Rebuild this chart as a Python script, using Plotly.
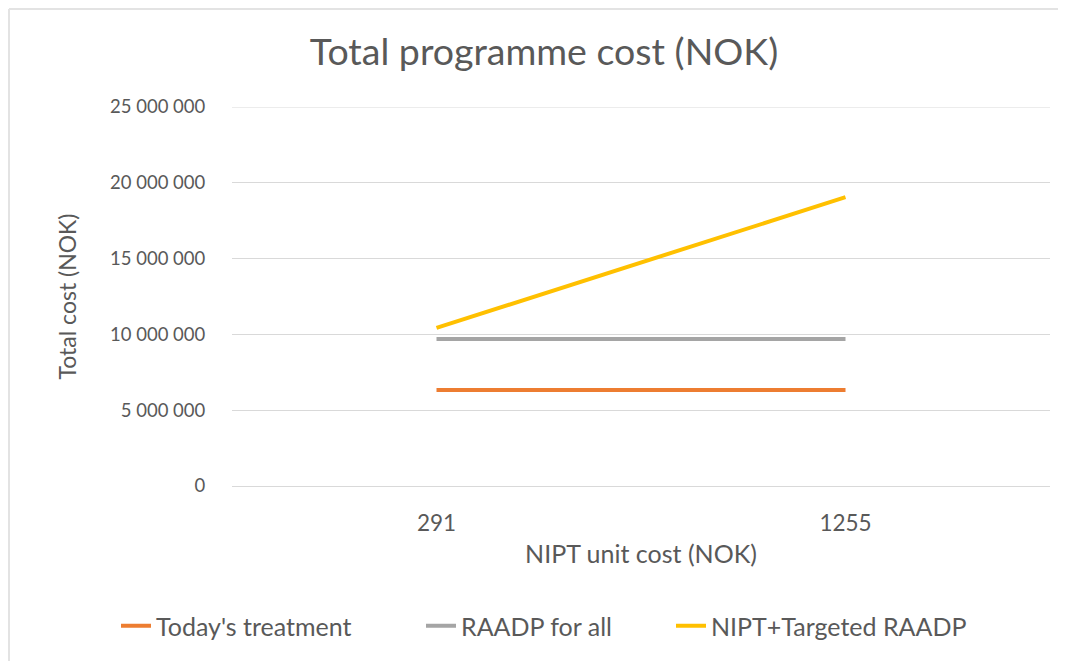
import plotly.graph_objects as go

categories = ["291", "1255"]
todays_treatment = [6_330_000, 6_330_000]
raadp_for_all = [9_700_000, 9_700_000]
nipt_targeted = [10_430_000, 19_050_000]
series_names = ["Today's treatment", "RAADP for all", "NIPT+Targeted RAADP"]
series_colors = ["#ED7D31", "#A5A5A5", "#FFC000"]
y_ticks = [0, 5_000_000, 10_000_000, 15_000_000, 20_000_000, 25_000_000]

# page has an 8px body margin, so the figure is drawn 8px smaller / shifted
W, H = 1058, 653
L, R, T, B = 224, 16, 99, 175
pw, ph = W - L - R, H - T - B

FONT = "Lato"
TXT = "#595959"
GRID = "#D9D9D9"

legend_refs = ["legend", "legend", "legend2"]

fig = go.Figure()
for name, vals, col, lg in zip(series_names, [todays_treatment, raadp_for_all, nipt_targeted],
                                series_colors, legend_refs):
    fig.add_trace(go.Scatter(x=categories, y=vals, mode="lines", name=name, legend=lg,
                             line=dict(color=col, width=4)))

def px_x(x):
    return (x - L) / pw

def px_y(y):
    return (H - B - y) / ph

legend_common = dict(orientation="h", xanchor="left", xref="paper",
                     y=px_y(618), yanchor="middle", yref="paper",
                     font=dict(size=25, color=TXT))

fig.update_layout(
    width=W, height=H,
    margin=dict(l=L, r=R, t=T, b=B, autoexpand=False),
    paper_bgcolor="white", plot_bgcolor="white",
    separators=". ",
    font=dict(family=FONT, color=TXT, size=19),
    title=dict(text="Total programme cost (NOK)", x=536 / W, xref="container", xanchor="center",
               y=1 - 44 / H, yref="container", yanchor="middle",
               font=dict(size=37.5, color=TXT, family=FONT)),
    xaxis=dict(type="category", range=[-0.5, 1.5], showgrid=False, zeroline=False,
               showline=False, ticks="outside", ticklen=17, tickcolor="rgba(0,0,0,0)",
               tickfont=dict(size=22.5, color=TXT),
               title=dict(text="NIPT unit cost (NOK)", font=dict(size=25, color=TXT), standoff=10)),
    yaxis=dict(range=[0, 25_000_000], tickvals=y_ticks, tickformat=",d",
               showgrid=True, gridcolor=GRID, gridwidth=1,
               zeroline=True, zerolinecolor=GRID, zerolinewidth=1,
               showline=False, ticks="outside", ticklen=22, tickcolor="rgba(0,0,0,0)",
               tickfont=dict(size=18.5, color=TXT),
               title=dict(text="Total cost (NOK)", font=dict(size=23, color=TXT), standoff=26)),
    legend=dict(x=px_x(108), entrywidth=260, entrywidthmode="pixels", **legend_common),
    legend2=dict(x=px_x(663), **legend_common),
    showlegend=True,
    shapes=[
        dict(type="line", xref="paper", yref="y", x0=0, x1=1, y0=y_ticks[-1], y1=y_ticks[-1],
             line=dict(color=GRID, width=1), layer="below"),
        dict(type="line", xref="paper", yref="paper", x0=px_x(1), x1=px_x(W), y0=px_y(1), y1=px_y(1),
             line=dict(color="#E3E3E3", width=2)),
        dict(type="line", xref="paper", yref="paper", x0=px_x(1), x1=px_x(1), y0=px_y(1), y1=px_y(H),
             line=dict(color="#E3E3E3", width=2)),
    ],
)

fig.write_html("out.html")
